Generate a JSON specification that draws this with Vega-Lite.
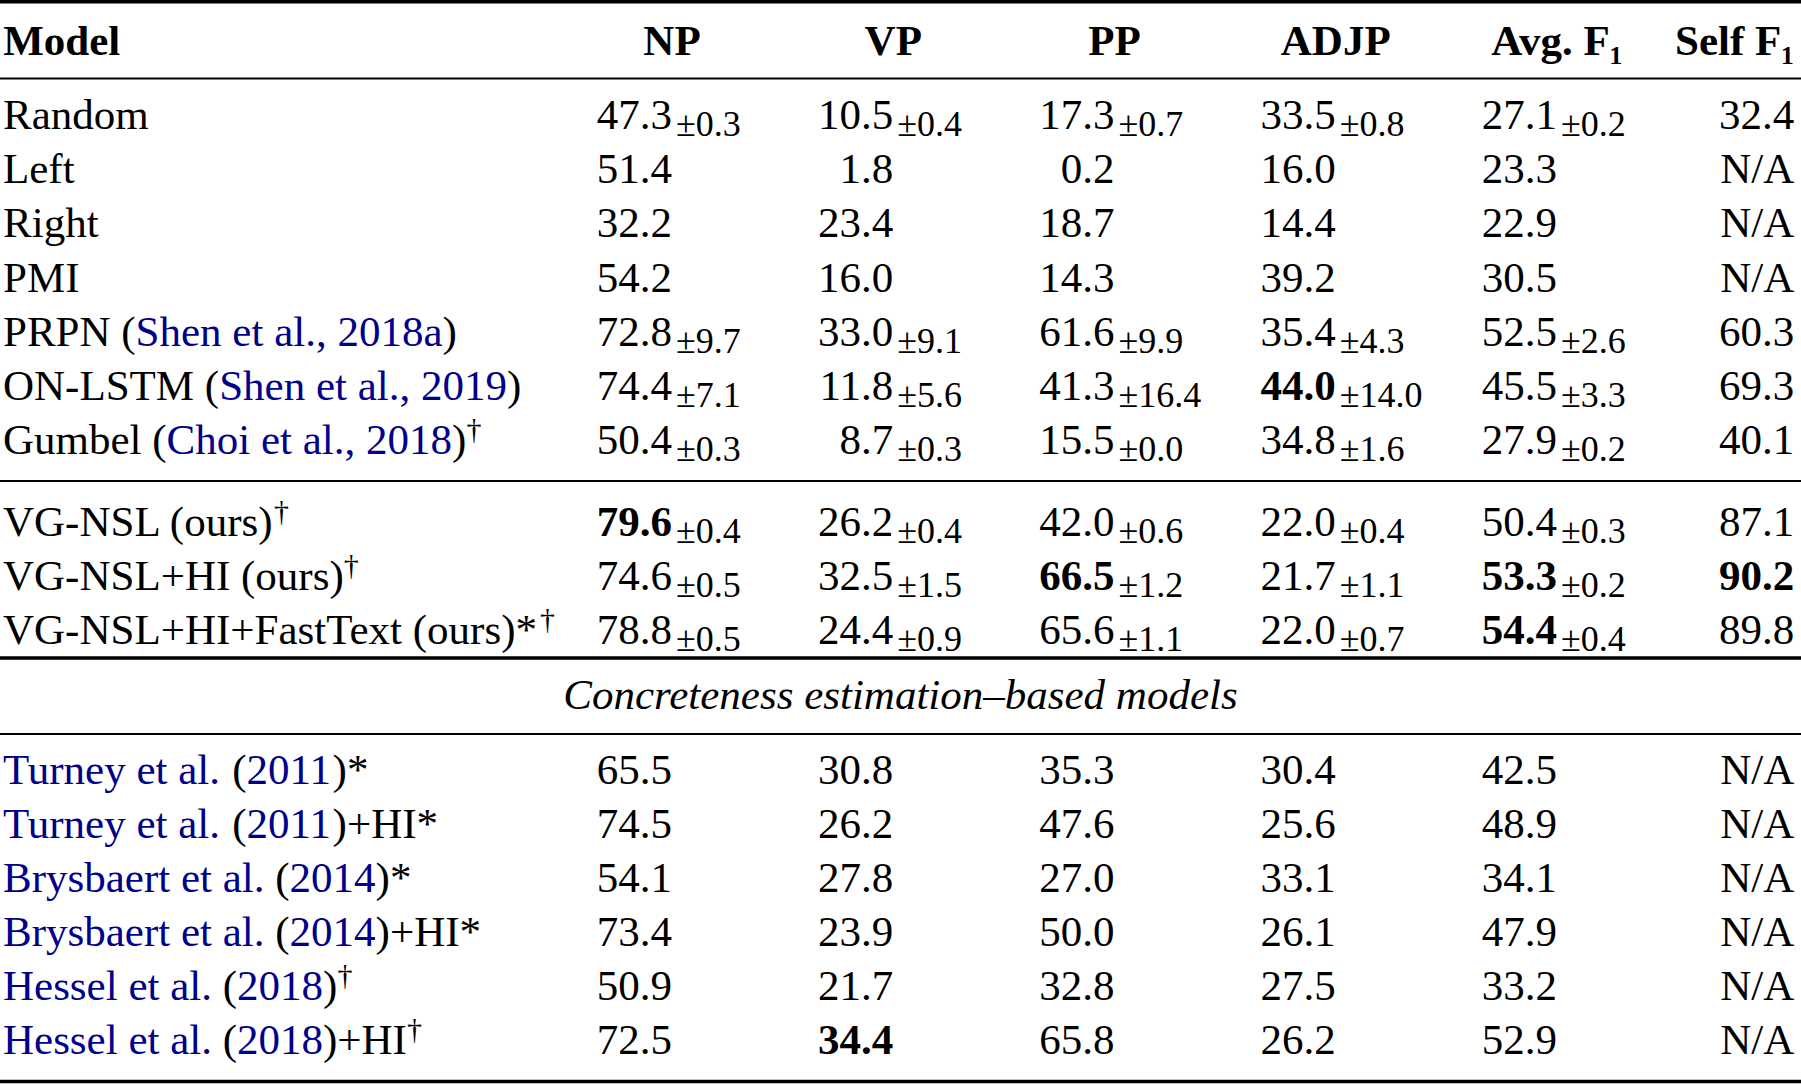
{
  "$schema": "https://vega.github.io/schema/vega-lite/v6.json",
  "width": 1801,
  "height": 1085,
  "padding": 0,
  "autosize": {"type": "none"},
  "background": "white",
  "config": {"view": {"stroke": null}},
  "resolve": {"scale": {"x": "independent"}},
  "datasets": {
    "rules": [
      {"line": -0.5, "w": "heavy"},
      {"line": 0.5, "w": "light"},
      {"line": 7.5, "w": "light"},
      {"line": 10.5, "w": "heavy"},
      {"line": 11.5, "w": "light"},
      {"line": 17.5, "w": "heavy"}
    ],
    "heads": [
      {"line": 0, "col": "Model", "t": "Model"},
      {"line": 0, "col": "NP", "t": "NP"},
      {"line": 0, "col": "VP", "t": "VP"},
      {"line": 0, "col": "PP", "t": "PP"},
      {"line": 0, "col": "ADJP", "t": "ADJP"},
      {"line": 0, "col": "Avg", "t": "Avg. F₁"},
      {"line": 0, "col": "Self", "t": "Self F₁"}
    ],
    "title": [
      {"line": 11, "t": "Concreteness estimation–based models"}
    ],
    "labels": [
      {"line": 1, "seg": 0, "t": "Random", "k": "plain"},
      {"line": 2, "seg": 0, "t": "Left", "k": "plain"},
      {"line": 3, "seg": 0, "t": "Right", "k": "plain"},
      {"line": 4, "seg": 0, "t": "PMI", "k": "plain"},
      {"line": 5, "seg": 0, "t": "PRPN (", "k": "plain"},
      {"line": 5, "seg": 1, "t": "Shen et al., 2018a", "k": "cite"},
      {"line": 5, "seg": 2, "t": ")", "k": "plain"},
      {"line": 6, "seg": 0, "t": "ON-LSTM (", "k": "plain"},
      {"line": 6, "seg": 3, "t": "Shen et al., 2019", "k": "cite"},
      {"line": 6, "seg": 4, "t": ")", "k": "plain"},
      {"line": 7, "seg": 0, "t": "Gumbel (", "k": "plain"},
      {"line": 7, "seg": 5, "t": "Choi et al., 2018", "k": "cite"},
      {"line": 7, "seg": 6, "t": ")", "k": "plain"},
      {"line": 7, "seg": 7, "t": "†", "k": "sup"},
      {"line": 8, "seg": 0, "t": "VG-NSL (ours)", "k": "plain"},
      {"line": 8, "seg": 8, "t": "†", "k": "sup"},
      {"line": 9, "seg": 0, "t": "VG-NSL+HI (ours)", "k": "plain"},
      {"line": 9, "seg": 9, "t": "†", "k": "sup"},
      {"line": 10, "seg": 0, "t": "VG-NSL+HI+FastText (ours)*", "k": "plain"},
      {"line": 10, "seg": 10, "t": "†", "k": "sup"},
      {"line": 12, "seg": 0, "t": "Turney et al.", "k": "cite"},
      {"line": 12, "seg": 11, "t": "(", "k": "plain"},
      {"line": 12, "seg": 12, "t": "2011", "k": "cite"},
      {"line": 12, "seg": 13, "t": ")*", "k": "plain"},
      {"line": 13, "seg": 0, "t": "Turney et al.", "k": "cite"},
      {"line": 13, "seg": 11, "t": "(", "k": "plain"},
      {"line": 13, "seg": 12, "t": "2011", "k": "cite"},
      {"line": 13, "seg": 13, "t": ")+HI*", "k": "plain"},
      {"line": 14, "seg": 0, "t": "Brysbaert et al.", "k": "cite"},
      {"line": 14, "seg": 14, "t": "(", "k": "plain"},
      {"line": 14, "seg": 15, "t": "2014", "k": "cite"},
      {"line": 14, "seg": 16, "t": ")*", "k": "plain"},
      {"line": 15, "seg": 0, "t": "Brysbaert et al.", "k": "cite"},
      {"line": 15, "seg": 14, "t": "(", "k": "plain"},
      {"line": 15, "seg": 15, "t": "2014", "k": "cite"},
      {"line": 15, "seg": 16, "t": ")+HI*", "k": "plain"},
      {"line": 16, "seg": 0, "t": "Hessel et al.", "k": "cite"},
      {"line": 16, "seg": 17, "t": "(", "k": "plain"},
      {"line": 16, "seg": 18, "t": "2018", "k": "cite"},
      {"line": 16, "seg": 19, "t": ")", "k": "plain"},
      {"line": 16, "seg": 20, "t": "†", "k": "sup"},
      {"line": 17, "seg": 0, "t": "Hessel et al.", "k": "cite"},
      {"line": 17, "seg": 17, "t": "(", "k": "plain"},
      {"line": 17, "seg": 18, "t": "2018", "k": "cite"},
      {"line": 17, "seg": 19, "t": ")+HI", "k": "plain"},
      {"line": 17, "seg": 21, "t": "†", "k": "sup"}
    ],
    "cells": [
      {"line": 1, "col": "NP", "v": "47.3", "sd": "±0.3"},
      {"line": 1, "col": "VP", "v": "10.5", "sd": "±0.4"},
      {"line": 1, "col": "PP", "v": "17.3", "sd": "±0.7"},
      {"line": 1, "col": "ADJP", "v": "33.5", "sd": "±0.8"},
      {"line": 1, "col": "Avg", "v": "27.1", "sd": "±0.2"},
      {"line": 1, "col": "Self", "v": "32.4"},
      {"line": 2, "col": "NP", "v": "51.4"},
      {"line": 2, "col": "VP", "v": "1.8"},
      {"line": 2, "col": "PP", "v": "0.2"},
      {"line": 2, "col": "ADJP", "v": "16.0"},
      {"line": 2, "col": "Avg", "v": "23.3"},
      {"line": 2, "col": "Self", "v": "N/A"},
      {"line": 3, "col": "NP", "v": "32.2"},
      {"line": 3, "col": "VP", "v": "23.4"},
      {"line": 3, "col": "PP", "v": "18.7"},
      {"line": 3, "col": "ADJP", "v": "14.4"},
      {"line": 3, "col": "Avg", "v": "22.9"},
      {"line": 3, "col": "Self", "v": "N/A"},
      {"line": 4, "col": "NP", "v": "54.2"},
      {"line": 4, "col": "VP", "v": "16.0"},
      {"line": 4, "col": "PP", "v": "14.3"},
      {"line": 4, "col": "ADJP", "v": "39.2"},
      {"line": 4, "col": "Avg", "v": "30.5"},
      {"line": 4, "col": "Self", "v": "N/A"},
      {"line": 5, "col": "NP", "v": "72.8", "sd": "±9.7"},
      {"line": 5, "col": "VP", "v": "33.0", "sd": "±9.1"},
      {"line": 5, "col": "PP", "v": "61.6", "sd": "±9.9"},
      {"line": 5, "col": "ADJP", "v": "35.4", "sd": "±4.3"},
      {"line": 5, "col": "Avg", "v": "52.5", "sd": "±2.6"},
      {"line": 5, "col": "Self", "v": "60.3"},
      {"line": 6, "col": "NP", "v": "74.4", "sd": "±7.1"},
      {"line": 6, "col": "VP", "v": "11.8", "sd": "±5.6"},
      {"line": 6, "col": "PP", "v": "41.3", "sd": "±16.4"},
      {"line": 6, "col": "ADJP", "v": "44.0", "sd": "±14.0", "b": true},
      {"line": 6, "col": "Avg", "v": "45.5", "sd": "±3.3"},
      {"line": 6, "col": "Self", "v": "69.3"},
      {"line": 7, "col": "NP", "v": "50.4", "sd": "±0.3"},
      {"line": 7, "col": "VP", "v": "8.7", "sd": "±0.3"},
      {"line": 7, "col": "PP", "v": "15.5", "sd": "±0.0"},
      {"line": 7, "col": "ADJP", "v": "34.8", "sd": "±1.6"},
      {"line": 7, "col": "Avg", "v": "27.9", "sd": "±0.2"},
      {"line": 7, "col": "Self", "v": "40.1"},
      {"line": 8, "col": "NP", "v": "79.6", "sd": "±0.4", "b": true},
      {"line": 8, "col": "VP", "v": "26.2", "sd": "±0.4"},
      {"line": 8, "col": "PP", "v": "42.0", "sd": "±0.6"},
      {"line": 8, "col": "ADJP", "v": "22.0", "sd": "±0.4"},
      {"line": 8, "col": "Avg", "v": "50.4", "sd": "±0.3"},
      {"line": 8, "col": "Self", "v": "87.1"},
      {"line": 9, "col": "NP", "v": "74.6", "sd": "±0.5"},
      {"line": 9, "col": "VP", "v": "32.5", "sd": "±1.5"},
      {"line": 9, "col": "PP", "v": "66.5", "sd": "±1.2", "b": true},
      {"line": 9, "col": "ADJP", "v": "21.7", "sd": "±1.1"},
      {"line": 9, "col": "Avg", "v": "53.3", "sd": "±0.2", "b": true},
      {"line": 9, "col": "Self", "v": "90.2", "b": true},
      {"line": 10, "col": "NP", "v": "78.8", "sd": "±0.5"},
      {"line": 10, "col": "VP", "v": "24.4", "sd": "±0.9"},
      {"line": 10, "col": "PP", "v": "65.6", "sd": "±1.1"},
      {"line": 10, "col": "ADJP", "v": "22.0", "sd": "±0.7"},
      {"line": 10, "col": "Avg", "v": "54.4", "sd": "±0.4", "b": true},
      {"line": 10, "col": "Self", "v": "89.8"},
      {"line": 12, "col": "NP", "v": "65.5"},
      {"line": 12, "col": "VP", "v": "30.8"},
      {"line": 12, "col": "PP", "v": "35.3"},
      {"line": 12, "col": "ADJP", "v": "30.4"},
      {"line": 12, "col": "Avg", "v": "42.5"},
      {"line": 12, "col": "Self", "v": "N/A"},
      {"line": 13, "col": "NP", "v": "74.5"},
      {"line": 13, "col": "VP", "v": "26.2"},
      {"line": 13, "col": "PP", "v": "47.6"},
      {"line": 13, "col": "ADJP", "v": "25.6"},
      {"line": 13, "col": "Avg", "v": "48.9"},
      {"line": 13, "col": "Self", "v": "N/A"},
      {"line": 14, "col": "NP", "v": "54.1"},
      {"line": 14, "col": "VP", "v": "27.8"},
      {"line": 14, "col": "PP", "v": "27.0"},
      {"line": 14, "col": "ADJP", "v": "33.1"},
      {"line": 14, "col": "Avg", "v": "34.1"},
      {"line": 14, "col": "Self", "v": "N/A"},
      {"line": 15, "col": "NP", "v": "73.4"},
      {"line": 15, "col": "VP", "v": "23.9"},
      {"line": 15, "col": "PP", "v": "50.0"},
      {"line": 15, "col": "ADJP", "v": "26.1"},
      {"line": 15, "col": "Avg", "v": "47.9"},
      {"line": 15, "col": "Self", "v": "N/A"},
      {"line": 16, "col": "NP", "v": "50.9"},
      {"line": 16, "col": "VP", "v": "21.7"},
      {"line": 16, "col": "PP", "v": "32.8"},
      {"line": 16, "col": "ADJP", "v": "27.5"},
      {"line": 16, "col": "Avg", "v": "33.2"},
      {"line": 16, "col": "Self", "v": "N/A"},
      {"line": 17, "col": "NP", "v": "72.5"},
      {"line": 17, "col": "VP", "v": "34.4", "b": true},
      {"line": 17, "col": "PP", "v": "65.8"},
      {"line": 17, "col": "ADJP", "v": "26.2"},
      {"line": 17, "col": "Avg", "v": "52.9"},
      {"line": 17, "col": "Self", "v": "N/A"}
    ]
  },
  "encoding": {
    "y": {
      "field": "line",
      "type": "quantitative",
      "axis": null,
      "scale": {
        "type": "linear",
        "zero": false,
        "nice": false,
        "domain": [-0.5, 0, 0.5, 1, 7, 7.5, 8, 10, 10.5, 11, 11.5, 12, 17, 17.5],
        "range": [1.75, 55, 78.5, 129, 454, 481, 536, 644, 658, 709, 734, 784, 1054, 1081.5]
      }
    }
  },
  "layer": [
    {
      "data": {"name": "rules"},
      "mark": {"type": "rule", "color": "#000000"},
      "encoding": {
        "strokeWidth": {"field": "w", "type": "nominal", "legend": null, "scale": {"domain": ["heavy", "light"], "range": [3.4, 2.2]}}
      }
    },
    {
      "data": {"name": "heads"},
      "transform": [{"filter": "datum.col === 'Model'"}],
      "mark": {"type": "text", "align": "left", "baseline": "alphabetic", "dx": -5, "font": "Liberation Serif", "fontSize": 43, "fontWeight": "bold", "color": "#000000"},
      "encoding": {
        "x": {"field": "col", "type": "nominal", "axis": null, "scale": {"type": "point", "padding": 0, "domain": ["Model", "p1", "p2", "NP", "VP", "PP", "ADJP", "Avg", "Self"], "range": [8.25, 1778.25]}},
        "text": {"field": "t"}
      }
    },
    {
      "data": {"name": "heads"},
      "transform": [{"filter": "datum.col !== 'Model' && datum.col !== 'Self'"}],
      "mark": {"type": "text", "align": "center", "baseline": "alphabetic", "font": "Liberation Serif", "fontSize": 43, "fontWeight": "bold", "color": "#000000"},
      "encoding": {
        "x": {"field": "col", "type": "nominal", "axis": null, "scale": {"type": "point", "padding": 0, "domain": ["Model", "p1", "p2", "NP", "VP", "PP", "ADJP", "Avg", "Self"], "range": [8.25, 1778.25]}},
        "text": {"field": "t"}
      }
    },
    {
      "data": {"name": "heads"},
      "transform": [{"filter": "datum.col === 'Self'"}],
      "mark": {"type": "text", "align": "right", "baseline": "alphabetic", "dx": 16, "font": "Liberation Serif", "fontSize": 43, "fontWeight": "bold", "color": "#000000"},
      "encoding": {
        "x": {"field": "col", "type": "nominal", "axis": null, "scale": {"type": "point", "padding": 0, "domain": ["Model", "p1", "p2", "NP", "VP", "PP", "ADJP", "Avg", "Self"], "range": [8.25, 1778.25]}},
        "text": {"field": "t"}
      }
    },
    {
      "data": {"name": "labels"},
      "transform": [{"filter": "datum.k !== 'sup'"}],
      "mark": {"type": "text", "align": "left", "baseline": "alphabetic", "font": "Liberation Serif", "fontSize": 43},
      "encoding": {
        "x": {"field": "seg", "type": "quantitative", "axis": null, "scale": {"type": "linear", "zero": false, "nice": false, "domain": [0, 1, 2, 3, 4, 5, 6, 7, 8, 9, 10, 11, 12, 13, 14, 15, 16, 17, 18, 19, 20, 21], "range": [3, 135.6, 442.5, 219.2, 507, 166.6, 452.1, 466.4, 274.1, 343.7, 539.9, 232.3, 246.6, 332.6, 275.3, 289.6, 375.6, 222.7, 237, 323, 337.4, 407]}},
        "text": {"field": "t"},
        "color": {"field": "k", "type": "nominal", "legend": null, "scale": {"domain": ["plain", "cite"], "range": ["#000000", "#00008b"]}}
      }
    },
    {
      "data": {"name": "labels"},
      "transform": [{"filter": "datum.k === 'sup'"}],
      "mark": {"type": "text", "align": "left", "baseline": "alphabetic", "dy": -15, "font": "Liberation Serif", "fontSize": 30, "color": "#000000"},
      "encoding": {
        "x": {"field": "seg", "type": "quantitative", "axis": null, "scale": {"type": "linear", "zero": false, "nice": false, "domain": [0, 1, 2, 3, 4, 5, 6, 7, 8, 9, 10, 11, 12, 13, 14, 15, 16, 17, 18, 19, 20, 21], "range": [3, 135.6, 442.5, 219.2, 507, 166.6, 452.1, 466.4, 274.1, 343.7, 539.9, 232.3, 246.6, 332.6, 275.3, 289.6, 375.6, 222.7, 237, 323, 337.4, 407]}},
        "text": {"field": "t"}
      }
    },
    {
      "data": {"name": "title"},
      "mark": {"type": "text", "align": "center", "baseline": "alphabetic", "font": "Liberation Serif", "fontSize": 43, "fontStyle": "italic", "color": "#000000"},
      "encoding": {
        "text": {"field": "t"}
      }
    },
    {
      "data": {"name": "cells"},
      "transform": [{"filter": "datum.col !== 'Self' && !datum.b"}],
      "mark": {"type": "text", "align": "right", "baseline": "alphabetic", "font": "Liberation Serif", "fontSize": 43, "color": "#000000"},
      "encoding": {
        "x": {"field": "col", "type": "nominal", "axis": null, "scale": {"type": "point", "padding": 0, "domain": ["Model", "p1", "p2", "NP", "VP", "PP", "ADJP", "Avg", "Self"], "range": [8.25, 1778.25]}},
        "text": {"field": "v"}
      }
    },
    {
      "data": {"name": "cells"},
      "transform": [{"filter": "datum.col !== 'Self' && datum.b"}],
      "mark": {"type": "text", "align": "right", "baseline": "alphabetic", "font": "Liberation Serif", "fontSize": 43, "fontWeight": "bold", "color": "#000000"},
      "encoding": {
        "x": {"field": "col", "type": "nominal", "axis": null, "scale": {"type": "point", "padding": 0, "domain": ["Model", "p1", "p2", "NP", "VP", "PP", "ADJP", "Avg", "Self"], "range": [8.25, 1778.25]}},
        "text": {"field": "v"}
      }
    },
    {
      "data": {"name": "cells"},
      "transform": [{"filter": "datum.col === 'Self' && !datum.b"}],
      "mark": {"type": "text", "align": "right", "baseline": "alphabetic", "dx": 16, "font": "Liberation Serif", "fontSize": 43, "color": "#000000"},
      "encoding": {
        "x": {"field": "col", "type": "nominal", "axis": null, "scale": {"type": "point", "padding": 0, "domain": ["Model", "p1", "p2", "NP", "VP", "PP", "ADJP", "Avg", "Self"], "range": [8.25, 1778.25]}},
        "text": {"field": "v"}
      }
    },
    {
      "data": {"name": "cells"},
      "transform": [{"filter": "datum.col === 'Self' && datum.b"}],
      "mark": {"type": "text", "align": "right", "baseline": "alphabetic", "dx": 16, "font": "Liberation Serif", "fontSize": 43, "fontWeight": "bold", "color": "#000000"},
      "encoding": {
        "x": {"field": "col", "type": "nominal", "axis": null, "scale": {"type": "point", "padding": 0, "domain": ["Model", "p1", "p2", "NP", "VP", "PP", "ADJP", "Avg", "Self"], "range": [8.25, 1778.25]}},
        "text": {"field": "v"}
      }
    },
    {
      "data": {"name": "cells"},
      "transform": [{"filter": "datum.sd"}],
      "mark": {"type": "text", "align": "left", "baseline": "alphabetic", "dx": 4, "dy": 7, "font": "Liberation Serif", "fontSize": 36, "color": "#000000"},
      "encoding": {
        "x": {"field": "col", "type": "nominal", "axis": null, "scale": {"type": "point", "padding": 0, "domain": ["Model", "p1", "p2", "NP", "VP", "PP", "ADJP", "Avg", "Self"], "range": [8.25, 1778.25]}},
        "text": {"field": "sd"}
      }
    }
  ]
}
